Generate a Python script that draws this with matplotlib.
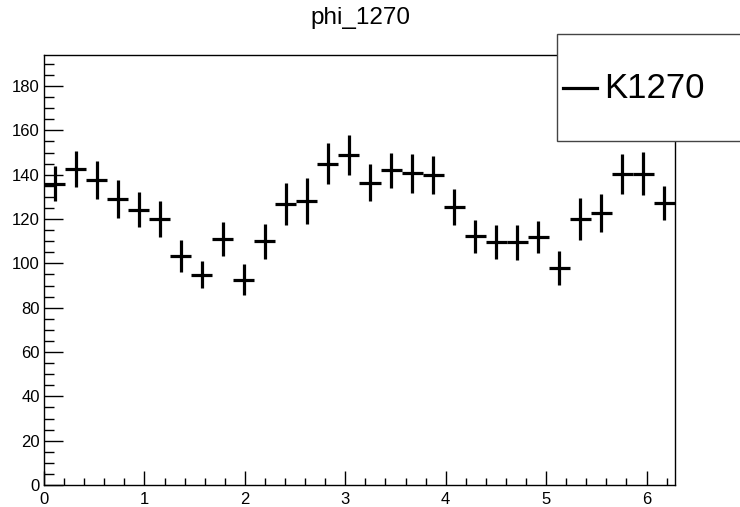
import numpy as np
import matplotlib
matplotlib.use("Agg")
import matplotlib.pyplot as plt
from matplotlib.patches import Rectangle
from matplotlib.lines import Line2D
from matplotlib.ticker import MultipleLocator

plt.rcParams["font.family"] = ["Liberation Sans", "DejaVu Sans"]

# phi distribution, 30 bins over [0, 2pi]
n_bins = 30
counts = [136.0, 142.7, 137.8, 129.2, 124.2, 120.2, 103.2, 94.9, 110.8, 92.6,
          109.9, 126.9, 128.1, 145.0, 149.0, 136.4, 141.9, 140.6, 140.0, 125.4,
          112.2, 109.6, 109.6, 111.9, 97.9, 120.2, 122.7, 140.5, 140.5, 127.2]
errors = [8.0, 8.2, 8.6, 8.6, 8.0, 8.1, 7.2, 6.2, 7.7, 7.0,
          8.0, 9.5, 10.5, 9.4, 9.1, 8.2, 8.0, 8.7, 8.6, 8.3,
          7.5, 7.7, 7.9, 7.1, 7.8, 9.5, 8.5, 9.0, 9.8, 7.7]
title = "phi_1270"
legend_label = "K1270"

edges = np.linspace(0, 2 * np.pi, n_bins + 1)
centers = 0.5 * (edges[:-1] + edges[1:])
half_width = 0.5 * (edges[1] - edges[0])

W, H = 740, 507
fig = plt.figure(figsize=(W / 100, H / 100), dpi=100)
ax = fig.add_axes([44 / W, 1 - 485 / H, (675 - 44) / W, (485 - 55) / H])

ax.errorbar(centers, counts, xerr=half_width, yerr=errors, fmt="none",
            ecolor="black", elinewidth=2.3, capsize=0)

ax.set_xlim(0, 2 * np.pi)
ax.set_ylim(0, 194)
ax.xaxis.set_major_locator(MultipleLocator(1))
ax.xaxis.set_minor_locator(MultipleLocator(0.2))
ax.yaxis.set_major_locator(MultipleLocator(20))
ax.yaxis.set_minor_locator(MultipleLocator(5))
ax.tick_params(axis="both", which="both", direction="in", top=False, right=False,
               labelsize=12, width=1.0, color="black")
ax.tick_params(axis="y", which="major", length=13.5, pad=3)
ax.tick_params(axis="y", which="minor", length=7)
ax.tick_params(axis="x", which="major", length=10, pad=5)
ax.tick_params(axis="x", which="minor", length=5)
for s in ax.spines.values():
    s.set_linewidth(1.0)

fig.text(360 / W, 1 - 18 / H, title, ha="center", va="center", fontsize=17.5)

# legend box, partly off the canvas on the right
fig.patches.append(Rectangle((557 / W, 1 - 141 / H), 200 / W, 107 / H,
                             transform=fig.transFigure, facecolor="white",
                             edgecolor="#444444", linewidth=1.0, zorder=5))
fig.lines.append(Line2D([563 / W, 597 / W], [1 - 88 / H, 1 - 88 / H],
                        transform=fig.transFigure, color="black",
                        linewidth=2.3, zorder=6))
fig.text(604 / W, 1 - 89 / H, legend_label, ha="left", va="center",
         fontsize=25, zorder=6)

fig.savefig("out.png", dpi=100)
